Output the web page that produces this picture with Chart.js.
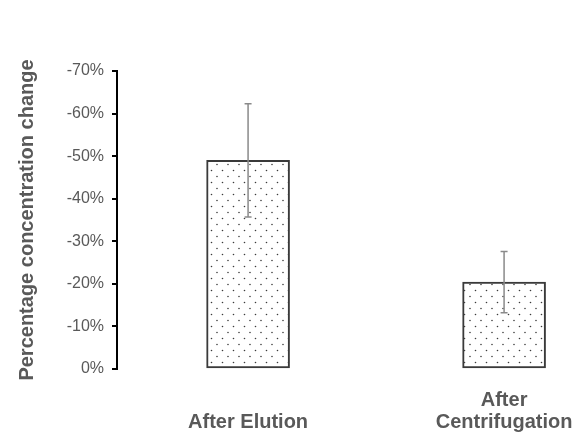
<!DOCTYPE html>
<html>
<head>
<meta charset="utf-8">
<script src="https://cdn.jsdelivr.net/npm/chart.js@4.4.0/dist/chart.umd.min.js"></script>
<style>
    html, body { margin: 0; padding: 0; background: #ffffff; }
    #wrap { width: 579px; height: 438px; }
</style>
</head>
<body>
<div id="wrap"><canvas id="concentration_chart" width="579" height="438"></canvas></div>
<script>
    'use strict';

    // values (percent change)
    var categories = ['After Elution', 'After Centrifugation'];
    var meanChange = [-49.0, -20.4];
    var errorChange = [13.3, 7.2];
    var yTicks = [0, -10, -20, -30, -40, -50, -60, -70];

    var textColor = '#595959';
    var fontFamily = "'Liberation Sans', Arial, sans-serif";

    function makeDotPattern() {
        var tile = document.createElement('canvas');
        tile.width = 11;
        tile.height = 12;
        var tctx = tile.getContext('2d');
        tctx.fillStyle = '#ffffff';
        tctx.fillRect(0, 0, 11, 12);
        tctx.fillStyle = '#3c3c3c';
        tctx.beginPath();
        tctx.arc(2.5, 2.5, 0.8, 0, Math.PI * 2);
        tctx.arc(8, 8.5, 0.8, 0, Math.PI * 2);
        tctx.fill();
        var ctx = document.getElementById('concentration_chart').getContext('2d');
        return ctx.createPattern(tile, 'repeat');
    }

    // draws the error whiskers on top of the bars
    var errorBarPlugin = {
        id: 'errorBars',
        afterDatasetsDraw: function (chart) {
            var ctx = chart.ctx;
            var yScale = chart.scales.y;
            var meta = chart.getDatasetMeta(0);
            ctx.save();
            ctx.strokeStyle = '#8a8a8a';
            ctx.lineWidth = 1.5;
            for (var i = 0; i < meta.data.length; i++) {
                var x = meta.data[i].x;
                var yHigh = yScale.getPixelForValue(meanChange[i] - errorChange[i]);
                var yLow = yScale.getPixelForValue(meanChange[i] + errorChange[i]);
                ctx.beginPath();
                ctx.moveTo(x, yHigh);
                ctx.lineTo(x, yLow);
                ctx.moveTo(x - 3.5, yHigh);
                ctx.lineTo(x + 3.5, yHigh);
                ctx.moveTo(x - 3.5, yLow);
                ctx.lineTo(x + 3.5, yLow);
                ctx.stroke();
            }
            ctx.restore();
        }
    };

    var points = meanChange.map(function (v, i) {
        return { x: i, y: v };
    });

    var chart = new Chart(document.getElementById('concentration_chart'), {
        type: 'bar',
        data: {
            datasets: [{
                label: 'Percentage concentration change',
                data: points,
                backgroundColor: makeDotPattern(),
                borderColor: '#3a3a3a',
                borderWidth: 2,
                borderSkipped: false,
                barThickness: 83
            }]
        },
        options: {
            responsive: false,
            animation: false,
            layout: {
                padding: { top: 71, left: 5, right: 4, bottom: 0 }
            },
            plugins: {
                legend: { display: false },
                tooltip: { enabled: false }
            },
            scales: {
                x: {
                    type: 'linear',
                    offset: false,
                    min: -0.512,
                    max: 1.277,
                    grid: { display: false, offset: false, drawTicks: false },
                    border: { display: false },
                    afterBuildTicks: function (scale) {
                        scale.ticks = categories.map(function (c, i) {
                            return { value: i };
                        });
                    },
                    afterFit: function (scale) {
                        scale.height = 69;
                        scale.paddingLeft = 0;
                        scale.paddingRight = 0;
                    },
                    ticks: {
                        padding: 20,
                        color: textColor,
                        maxRotation: 0,
                        autoSkip: false,
                        font: { family: fontFamily, size: 20, weight: 'bold', lineHeight: 1.1 },
                        callback: function (value) {
                            if (categories[value] === 'After Elution') {
                                return ['', categories[value]];
                            }
                            return categories[value].split(' ');
                        }
                    }
                },
                y: {
                    reverse: true,
                    min: -70,
                    max: 0,
                    afterBuildTicks: function (scale) {
                        scale.ticks = yTicks.map(function (v) {
                            return { value: v };
                        });
                    },
                    afterFit: function (scale) {
                        scale.width = 112;
                        scale.paddingTop = 0;
                        scale.paddingBottom = 0;
                    },
                    grid: {
                        drawOnChartArea: false,
                        drawTicks: true,
                        tickLength: 5,
                        color: '#000000',
                        lineWidth: 2
                    },
                    border: { display: true, color: '#000000', width: 2 },
                    ticks: {
                        padding: 8,
                        color: textColor,
                        font: { family: fontFamily, size: 16 },
                        callback: function (value) {
                            return value + '%';
                        }
                    },
                    title: {
                        display: true,
                        text: 'Percentage concentration change',
                        color: textColor,
                        padding: { top: 10, bottom: 27 },
                        font: { family: fontFamily, size: 20, weight: 'bold', lineHeight: 1.2 }
                    }
                }
            }
        },
        plugins: [errorBarPlugin]
    });
</script>
</body>
</html>
